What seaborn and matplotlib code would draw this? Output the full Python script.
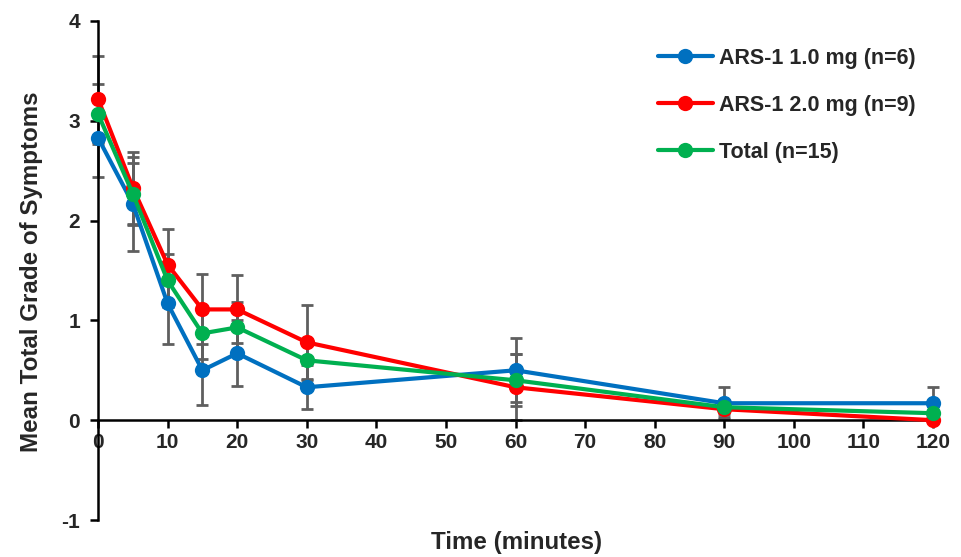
import matplotlib
matplotlib.use("Agg")
import matplotlib.pyplot as plt
import seaborn as sns
import pandas as pd

# Time points (minutes)
times = [0, 5, 10, 15, 20, 30, 60, 90, 120]

# Mean total grade of symptoms and standard errors per group
dose1_mean = [2.83, 2.17, 1.17, 0.50, 0.67, 0.33, 0.50, 0.17, 0.17]
dose1_err = [0.39, 0.47, 0.41, 0.35, 0.33, 0.22, 0.32, 0.16, 0.16]
dose2_mean = [3.22, 2.33, 1.56, 1.11, 1.11, 0.78, 0.33, 0.11, 0.00]
dose2_err = [0.43, 0.36, 0.36, 0.35, 0.34, 0.37, 0.33, 0.08, 0.00]
total_mean = [3.07, 2.27, 1.40, 0.87, 0.93, 0.60, 0.40, 0.13, 0.07]
total_err = [0.30, 0.31, 0.27, 0.26, 0.25, 0.20, 0.26, 0.07, 0.07]

series_names = ["ARS-1 1.0 mg (n=6)", "ARS-1 2.0 mg (n=9)", "Total (n=15)"]
colors = ["#0070C0", "#FF0000", "#00B050"]

x_ticks = list(range(0, 121, 10))
y_ticks = [-1, 0, 1, 2, 3, 4]

frames = []
for name, m, e in zip(series_names,
                      [dose1_mean, dose2_mean, total_mean],
                      [dose1_err, dose2_err, total_err]):
    frames.append(pd.DataFrame({"Time": times, "Mean": m, "SE": e, "Group": name}))
df = pd.concat(frames, ignore_index=True)

sns.set_style("ticks")
plt.rcParams["font.family"] = ["Liberation Sans", "DejaVu Sans"]
plt.rcParams["font.weight"] = "bold"
plt.rcParams["axes.unicode_minus"] = False

fig = plt.figure(figsize=(9.61, 5.57), dpi=100)
ax = fig.add_axes([98 / 961, 1 - 520 / 557, (933 - 98) / 961, (520 - 21) / 557])

# Error bars sit underneath the lines
for name in series_names:
    sub = df[df["Group"] == name]
    ax.errorbar(sub["Time"], sub["Mean"], yerr=sub["SE"], fmt="none",
                ecolor="#5F5F5F", elinewidth=2.0, capsize=4.0, capthick=2.0,
                zorder=1, clip_on=False)

sns.lineplot(data=df, x="Time", y="Mean", hue="Group", hue_order=series_names,
             palette=colors, marker="o", markersize=11, markeredgewidth=0,
             linewidth=3.0, ax=ax, legend=True, zorder=3, clip_on=False)

ax.set_xlim(0, 120)
ax.set_ylim(-1, 4)
ax.set_xticks(x_ticks)
ax.set_yticks(y_ticks)
ax.set_yticklabels([str(v) for v in y_ticks])

ax.spines["right"].set_visible(False)
ax.spines["top"].set_visible(False)
ax.spines["bottom"].set_position(("data", 0))
for s in ["left", "bottom"]:
    ax.spines[s].set_linewidth(1.8)
    ax.spines[s].set_color("black")

ax.tick_params(axis="both", which="major", length=6, width=1.8, color="black",
               labelsize=15, direction="out")
ax.tick_params(axis="y", pad=7)
ax.tick_params(axis="x", pad=3)
for lbl in ax.get_xticklabels() + ax.get_yticklabels():
    lbl.set_fontweight("bold")

ax.set_xlabel("Time (minutes)", fontsize=17.4, fontweight="bold")
ax.set_ylabel("Mean Total Grade of Symptoms", fontsize=17.4, fontweight="bold")
ax.xaxis.set_label_coords((517 - 98) / 835, (520 - 543) / 499)
ax.xaxis.label.set_verticalalignment("center")
ax.yaxis.set_label_coords(-0.066, 0.497)

handles, labels = ax.get_legend_handles_labels()
leg = ax.legend(handles, labels, loc="upper left",
                bbox_to_anchor=(658 / 961, 1 - 48 / 557),
                bbox_transform=fig.transFigure, frameon=False,
                fontsize=15.5, handlelength=2.55, handletextpad=0.3,
                labelspacing=1.2, borderpad=0, borderaxespad=0)
for t in leg.get_texts():
    t.set_fontweight("bold")

fig.savefig("out.png", dpi=100)
